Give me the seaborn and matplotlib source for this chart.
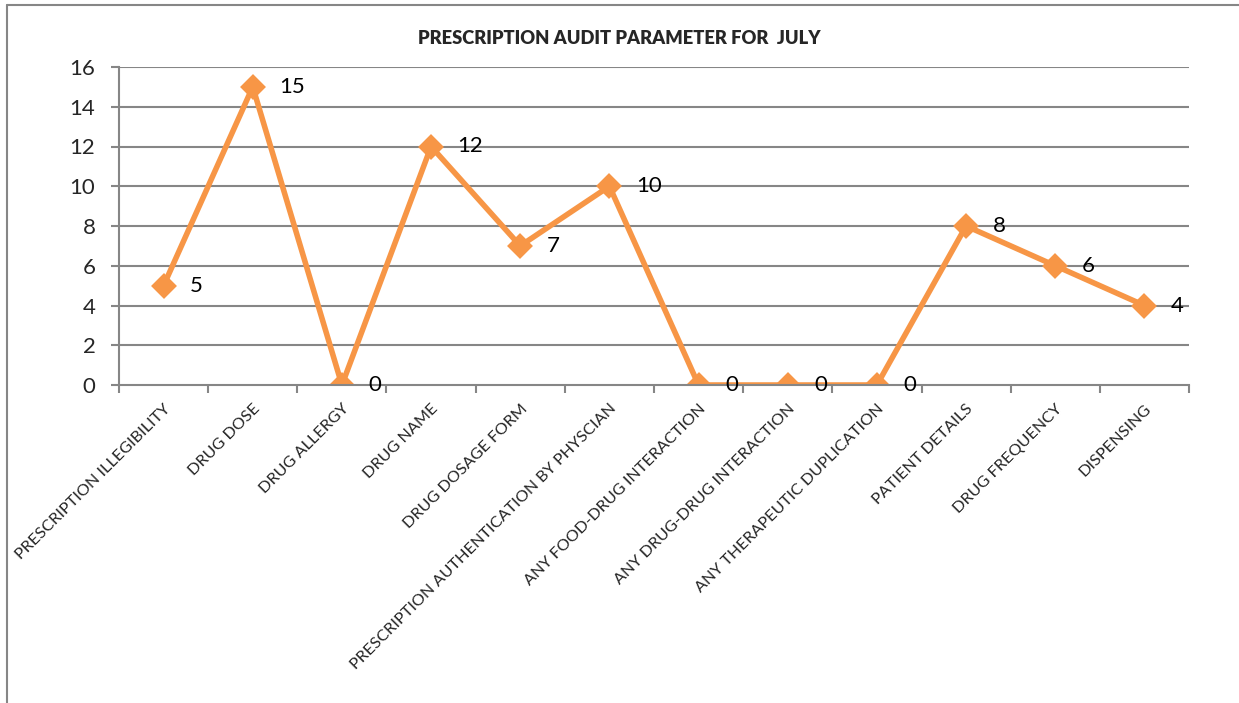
import matplotlib
matplotlib.use("Agg")
import matplotlib.pyplot as plt
import seaborn as sns
import pandas as pd
from matplotlib.lines import Line2D

categories = ["PRESCRIPTION ILLEGIBILITY", "DRUG DOSE", "DRUG ALLERGY", "DRUG NAME",
              "DRUG DOSAGE FORM", "PRESCRIPTION AUTHENTICATION BY PHYSCIAN",
              "ANY FOOD-DRUG INTERACTION", "ANY DRUG-DRUG INTERACTION",
              "ANY THERAPEUTIC DUPLICATION", "PATIENT DETAILS", "DRUG FREQUENCY", "DISPENSING"]
counts = [5, 15, 0, 12, 7, 10, 0, 0, 0, 8, 6, 4]
y_ticks = [0, 2, 4, 6, 8, 10, 12, 14, 16]

df = pd.DataFrame({"param": categories, "count": counts})

sns.set_style("white")
plt.rcParams["font.family"] = ["Lato", "DejaVu Sans"]

orange = "#F79646"
grid_col = "#868686"

fig = plt.figure(figsize=(12.39, 7.03), dpi=100)
ax = fig.add_axes([119 / 1239, 1 - 385 / 703, (1189 - 119) / 1239, (385 - 67) / 703])

sns.pointplot(data=df, x="param", y="count", color=orange, marker="D",
              markersize=10, linewidth=4, errorbar=None, ax=ax)

ax.set_xlim(-0.5, len(categories) - 0.5)
ax.set_ylim(0, 16)
ax.set_yticks(y_ticks)
ax.set_xlabel("")
ax.set_ylabel("")

# gridlines like the excel chart
for v in y_ticks[1:]:
    ax.axhline(v, color=grid_col, lw=1.5, zorder=0)

for s in ["top", "right"]:
    ax.spines[s].set_visible(False)
for s in ["left", "bottom"]:
    ax.spines[s].set_color(grid_col)
    ax.spines[s].set_linewidth(1.5)

ax.tick_params(axis="y", length=5.5, width=1.5, color=grid_col, labelsize=16, pad=11.5, left=True)
ax.set_xticks(range(len(categories)))
ax.set_xticklabels(categories, rotation=45, ha="right", rotation_mode="anchor", fontsize=11.7)
ax.tick_params(axis="x", which="major", length=0, pad=12)
ax.set_xticks([i - 0.5 for i in range(len(categories) + 1)], minor=True)
ax.tick_params(axis="x", which="minor", length=6, width=1.5, color=grid_col, bottom=True)

# data labels
for i, v in enumerate(counts):
    ax.annotate(str(v), (i, v), xytext=(19, 0), textcoords="offset points",
                ha="left", va="center", fontsize=16, color="black")

fig.text(0.5, 1 - 38 / 703, "PRESCRIPTION AUDIT PARAMETER FOR  JULY", ha="center", va="center",
         fontsize=13.2, fontweight="heavy")

# chart frame (top and left edges visible)
fig.add_artist(Line2D([7 / 1239, 7 / 1239], [0, 1 - 5 / 703], color=grid_col, lw=1.5))
fig.add_artist(Line2D([7 / 1239, 1], [1 - 5 / 703, 1 - 5 / 703], color=grid_col, lw=1.5))

fig.savefig("out.png", dpi=100)
